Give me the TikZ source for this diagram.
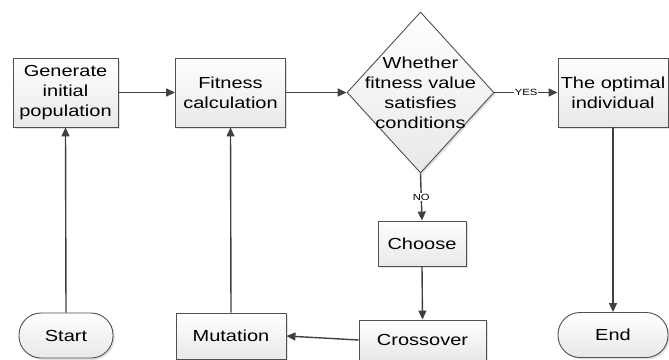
\documentclass[tikz,border=0pt]{standalone}
\usepackage{fontspec}
\setmainfont{Liberation Sans}[FakeStretch=1.25]
\usetikzlibrary{arrows.meta,shapes.geometric,shadows}
\definecolor{linegray}{HTML}{404040}
\definecolor{bordergray}{HTML}{505050}
\tikzset{
  base/.style={draw=bordergray, line width=0.9pt, top color=white, bottom color=black!9,
    align=center, font=\fontsize{16}{20}\selectfont, inner sep=0pt,
    drop shadow={shadow xshift=1.8pt, shadow yshift=-1.8pt, fill=black!12, opacity=1}},
  procbox/.style={base, rectangle},
  termbox/.style={base, rectangle, rounded corners=22pt},
  decision/.style={base, diamond, minimum width=147pt, minimum height=161pt},
  txt/.style={align=center, font=\fontsize{16}{20}\selectfont, inner sep=0pt},
  conn/.style={draw=linegray, line width=1.4pt, -{Triangle[length=9pt,width=8pt]}},
  lbl/.style={fill=white, font=\fontsize{9}{10}\selectfont, inner sep=1pt, text=black}
}
\begin{document}
\begin{tikzpicture}[x=1pt,y=-1pt]
\useasboundingbox (0,0) rectangle (669,359);
\clip (0,0) rectangle (669,359);
\node[procbox, minimum width=105pt, minimum height=69pt] (gen) at (65.5,92.5) {Generate\\initial\\population};
\node[procbox, minimum width=110pt, minimum height=69pt] (fit) at (230.5,92.5) {Fitness\\calculation};
\node[decision] (dec) at (420.5,92.5) {};
\node[txt] (dectext) at (dec.center) {Whether\\fitness value\\satisfies\\conditions};
\node[procbox, minimum width=110pt, minimum height=69pt] (opt) at (613,92.5) {The optimal\\individual};
\node[procbox, minimum width=88pt, minimum height=45pt] (choose) at (422,243.5) {Choose};
\node[procbox, minimum width=127pt, minimum height=40pt] (cross) at (422.5,340) {Crossover};
\node[procbox, minimum width=110pt, minimum height=46pt] (mut) at (231,336) {Mutation};
\node[termbox, minimum width=94pt, minimum height=45pt] (start) at (66,335.5) {Start};
\node[termbox, minimum width=110pt, minimum height=45pt] (end) at (613,335) {End};

\draw[conn] (gen.east) -- (fit.west);
\draw[conn] (fit.east) -- (dec.west);
\draw[conn] (dec.east) -- node[lbl] {YES} (opt.west);
\draw[conn] (dec.south) -- node[lbl, pos=0.5] {NO} (choose.north);
\draw[conn] (choose.south) -- (cross.north);
\draw[conn] (cross.west) -- (mut.east);
\draw[conn] (start.north) -- (gen.south);
\draw[conn] (mut.north) -- (fit.south);
\draw[conn] (opt.south) -- (end.north);
\end{tikzpicture}
\end{document}
